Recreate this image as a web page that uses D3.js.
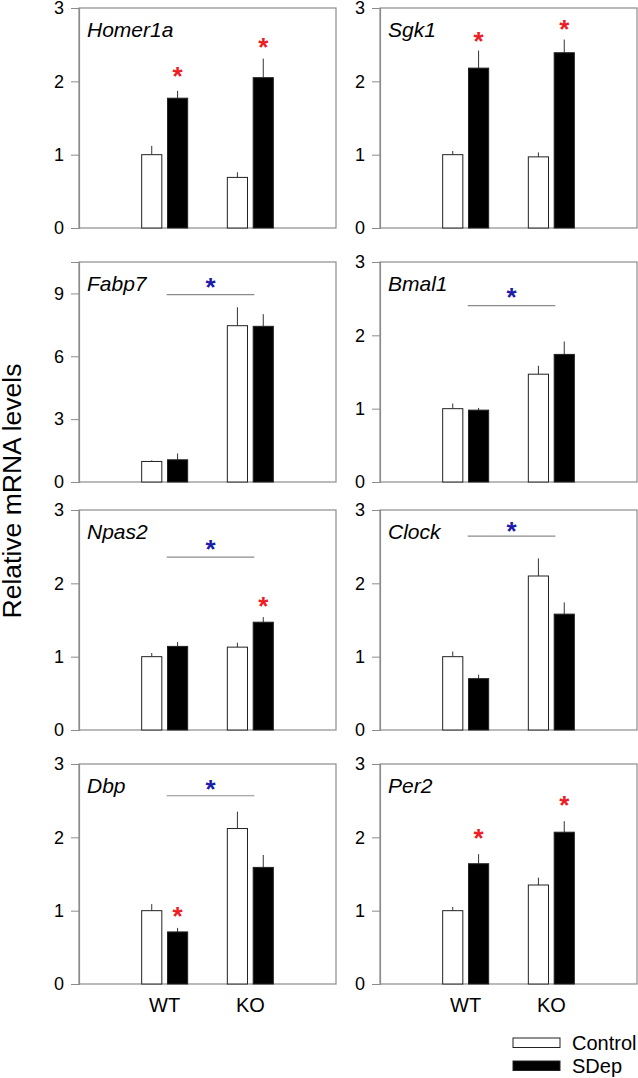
<!DOCTYPE html>
<html>
  <head>
    <meta charset="utf-8" />
    <title>Relative mRNA levels</title>
    <script src="https://cdn.jsdelivr.net/npm/d3@7"></script>
  </head>
  <body style="margin:0;background:#fff">
    <div id="canvas"></div>
  </body>
  <script>
    // data
    const genes = ["Homer1a", "Sgk1", "Fabp7", "Bmal1", "Npas2", "Clock", "Dbp", "Per2"];
    const groups = ["WT", "KO"];
    const conditions = ["Control", "SDep"];
    const yMax = [3, 3, 10.5, 3, 3, 3, 3, 3];
    const yTicks = [[0, 1, 2, 3], [0, 1, 2, 3], [0, 3, 6, 9], [0, 1, 2, 3],
                    [0, 1, 2, 3], [0, 1, 2, 3], [0, 1, 2, 3], [0, 1, 2, 3]];

    const wtControl = [1.00, 1.00, 0.98, 1.00, 1.00, 1.00, 1.00, 1.00];
    const wtSDep = [1.77, 2.18, 1.06, 0.98, 1.14, 0.70, 0.71, 1.64];
    const koControl = [0.69, 0.97, 7.46, 1.47, 1.13, 2.10, 2.12, 1.35];
    const koSDep = [2.05, 2.39, 7.43, 1.74, 1.47, 1.58, 1.59, 2.07];

    const wtControlErr = [0.12, 0.05, 0.05, 0.07, 0.05, 0.07, 0.09, 0.05];
    const wtSDepErr = [0.10, 0.24, 0.30, 0.03, 0.06, 0.055, 0.055, 0.13];
    const koControlErr = [0.07, 0.06, 0.88, 0.115, 0.06, 0.24, 0.23, 0.10];
    const koSDepErr = [0.26, 0.18, 0.58, 0.175, 0.07, 0.16, 0.17, 0.15];

    // red stars: SDep vs Control within genotype
    const redStars = [
      { gene: "Homer1a", group: "WT", y: 2.15 },
      { gene: "Homer1a", group: "KO", y: 2.54 },
      { gene: "Sgk1", group: "WT", y: 2.62 },
      { gene: "Sgk1", group: "KO", y: 2.79 },
      { gene: "Npas2", group: "KO", y: 1.76 },
      { gene: "Dbp", group: "WT", y: 1.0 },
      { gene: "Per2", group: "WT", y: 2.07 },
      { gene: "Per2", group: "KO", y: 2.52 },
    ];
    // blue stars: genotype effect, line + star
    const blueSig = [
      { gene: "Fabp7", line: 8.94, star: 9.56 },
      { gene: "Bmal1", line: 2.405, star: 2.6 },
      { gene: "Npas2", line: 2.357, star: 2.54 },
      { gene: "Clock", line: 2.645, star: 2.795 },
      { gene: "Dbp", line: 2.567, star: 2.74 },
    ];

    const width = 638;
    const height = 1078;
    const colX = [79, 380];
    const rowY = [8, 262, 510, 764];
    const pw = 257;
    const ph = 220;
    const gray = "#8c8c8c";
    const font = "Arial, 'Liberation Sans', sans-serif";

    const svg = d3
      .select("#canvas")
      .append("svg")
      .attr("width", width)
      .attr("height", height)
      .style("font-family", font);

    const x0 = d3.scalePoint().domain(groups).range([0, pw]).padding(1);
    const x1 = d3.scaleBand().domain(conditions).range([-23, 23]).paddingInner(0.22);

    genes.forEach((gene, i) => {
      const g = svg
        .append("g")
        .attr("transform", `translate(${colX[i % 2]},${rowY[Math.floor(i / 2)]})`);
      const y = d3.scaleLinear().domain([0, yMax[i]]).range([ph, 0]);

      const bars = [
        { group: "WT", cond: "Control", v: wtControl[i], e: wtControlErr[i] },
        { group: "WT", cond: "SDep", v: wtSDep[i], e: wtSDepErr[i] },
        { group: "KO", cond: "Control", v: koControl[i], e: koControlErr[i] },
        { group: "KO", cond: "SDep", v: koSDep[i], e: koSDepErr[i] },
      ];

      // frame
      g.append("rect")
        .attr("width", pw)
        .attr("height", ph)
        .attr("fill", "none")
        .attr("stroke", gray)
        .attr("stroke-width", 1.2);

      // y axis
      const ax = g
        .append("g")
        .call(d3.axisLeft(y).tickValues(yTicks[i]).tickSize(8).tickPadding(7).tickFormat(d3.format("d")));
      ax.select(".domain").attr("stroke", gray).attr("stroke-width", 1.2);
      ax.selectAll(".tick line").attr("stroke", gray);
      ax.selectAll(".tick text")
        .attr("fill", "#000")
        .style("font-size", "18px")
        .style("font-family", font);

      // error bars (upward only)
      g.append("g")
        .selectAll("line")
        .data(bars)
        .join("line")
        .attr("x1", (d) => x0(d.group) + x1(d.cond) + x1.bandwidth() / 2)
        .attr("x2", (d) => x0(d.group) + x1(d.cond) + x1.bandwidth() / 2)
        .attr("y1", (d) => y(d.v))
        .attr("y2", (d) => y(d.v + d.e))
        .attr("stroke", "#333")
        .attr("stroke-width", 1);

      // bars
      g.append("g")
        .selectAll("rect")
        .data(bars)
        .join("rect")
        .attr("x", (d) => x0(d.group) + x1(d.cond))
        .attr("y", (d) => y(d.v))
        .attr("width", x1.bandwidth())
        .attr("height", (d) => y(0) - y(d.v))
        .attr("fill", (d) => (d.cond === "Control" ? "#fff" : "#000"))
        .attr("stroke", "#222")
        .attr("stroke-width", 1);

      // gene name
      g.append("text")
        .attr("x", 8)
        .attr("y", 29)
        .style("font-size", "21px")
        .style("font-style", "italic")
        .text(gene);

      // significance: genotype line
      blueSig
        .filter((d) => d.gene === gene)
        .forEach((d) => {
          const xa = x0("WT") + 2;
          const xb = x0("KO") + 4;
          g.append("line")
            .attr("x1", xa)
            .attr("x2", xb)
            .attr("y1", y(d.line))
            .attr("y2", y(d.line))
            .attr("stroke", gray)
            .attr("stroke-width", 1.2);
          g.append("text")
            .attr("x", (xa + xb) / 2)
            .attr("y", y(d.star))
            .attr("dy", "0.56em")
            .attr("text-anchor", "middle")
            .attr("fill", "#1c1ca8")
            .style("font-size", "26px")
            .style("font-weight", "bold")
            .text("*");
        });

      // red stars over SDep bars
      g.append("g")
        .selectAll("text")
        .data(redStars.filter((d) => d.gene === gene))
        .join("text")
        .attr("x", (d) => x0(d.group) + x1("SDep") + x1.bandwidth() / 2)
        .attr("y", (d) => y(d.y))
        .attr("dy", "0.56em")
        .attr("text-anchor", "middle")
        .attr("fill", "#ee1c24")
        .style("font-size", "26px")
        .style("font-weight", "bold")
        .text("*");

      // x labels under the bottom row
      if (Math.floor(i / 2) === 3) {
        g.append("g")
          .selectAll("text")
          .data(groups)
          .join("text")
          .attr("x", (d) => x0(d))
          .attr("y", ph + 28)
          .attr("text-anchor", "middle")
          .style("font-size", "20px")
          .text((d) => d);
      }
    });

    // y label
    svg
      .append("text")
      .attr("transform", "translate(21,491) rotate(-90)")
      .attr("text-anchor", "middle")
      .style("font-size", "26.5px")
      .text("Relative mRNA levels");

    // legend
    const legend = svg.append("g").attr("transform", "translate(513,1038)");
    conditions.forEach((c, k) => {
      legend
        .append("rect")
        .attr("x", 0)
        .attr("y", k * 23)
        .attr("width", 47)
        .attr("height", 9.5)
        .attr("fill", c === "Control" ? "#fff" : "#000")
        .attr("stroke", "#222")
        .attr("stroke-width", 1);
      legend
        .append("text")
        .attr("x", 59)
        .attr("y", k * 23 + 5)
        .attr("dy", "0.35em")
        .style("font-size", "20px")
        .text(c);
    });
  </script>
</html>
